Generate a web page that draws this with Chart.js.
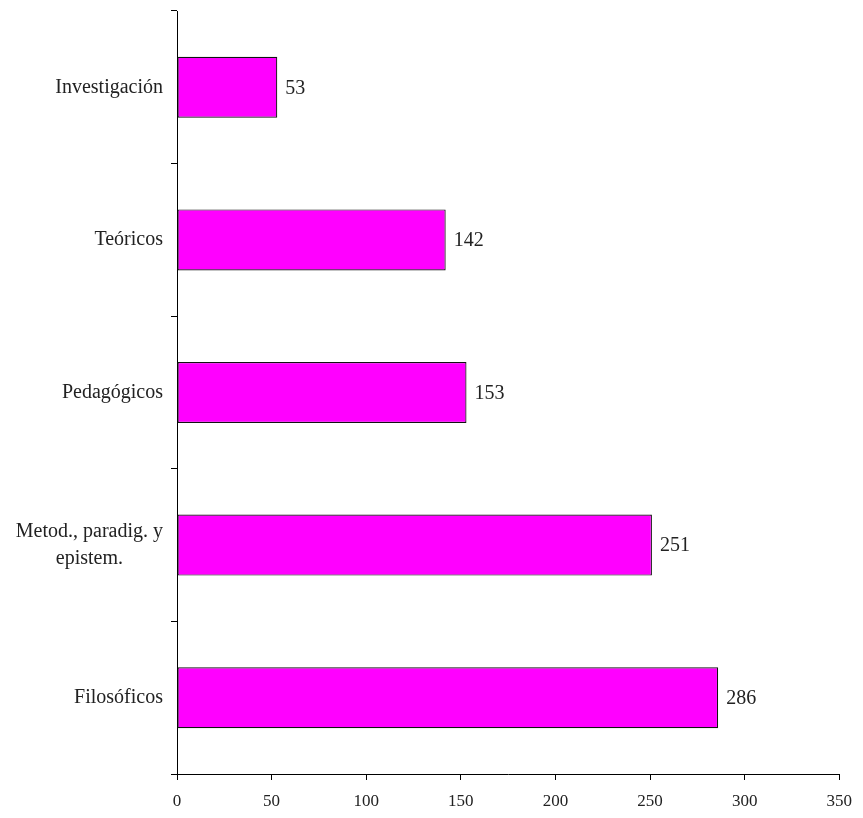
<!DOCTYPE html>
<html>
<head>
<meta charset="utf-8">
<script src="https://cdn.jsdelivr.net/npm/chart.js@4/dist/chart.umd.min.js"></script>
<style>
  body { margin: 0; background: #fff; }
  #wrap { width: 863px; height: 818px; }
</style>
</head>
<body>
<div id="wrap"><canvas id="chart" width="863" height="818"></canvas></div>
<script>
// Chart data
const categories = ['Investigación', 'Teóricos', 'Pedagógicos', ['Metod., paradig. y', 'epistem.'], 'Filosóficos'];
const values = [53, 142, 153, 251, 286];
const xTicks = [0, 50, 100, 150, 200, 250, 300, 350];

const FONT = "'Liberation Serif', 'DejaVu Serif', serif";

// Category labels, each block right aligned, lines centered inside the block
const catLabels = {
  id: 'catLabels',
  afterDraw(chart){
    let ctx = chart.ctx;
    let y = chart.scales.y;
    ctx.save();
    ctx.font = '20px ' + FONT;
    ctx.fillStyle = '#222';
    ctx.textBaseline = 'middle';
    ctx.textAlign = 'center';
    categories.forEach((lab, i) => {
      let lines = Array.isArray(lab) ? lab : [lab];
      let w = Math.max(...lines.map(l => ctx.measureText(l).width));
      let cx = y.right - 14 - w / 2;
      let cy = y.getPixelForValue(i);
      let lh = 27;
      lines.forEach((l, k) => {
        ctx.fillText(l, cx, cy + (k - (lines.length - 1) / 2) * lh);
      });
    });
    ctx.restore();
  }
};

// Value labels at bar ends
const valueLabels = {
  id: 'valueLabels',
  afterDatasetsDraw(chart){
    let ctx = chart.ctx;
    let meta = chart.getDatasetMeta(0);
    ctx.save();
    ctx.font = '20px ' + FONT;
    ctx.fillStyle = '#222';
    ctx.textBaseline = 'middle';
    ctx.textAlign = 'left';
    meta.data.forEach((bar, i) => {
      ctx.fillText(String(values[i]), bar.x + 8, bar.y + 1);
    });
    ctx.restore();
  }
};

new Chart(document.getElementById('chart'), {
  type: 'bar',
  data: {
    labels: categories,
    datasets: [{
      data: values,
      backgroundColor: '#FF00FF',
      borderColor: '#111',
      borderWidth: 1.2,
      borderSkipped: false,
      categoryPercentage: 0.8,
      barPercentage: 0.5
    }]
  },
  options: {
    indexAxis: 'y',
    responsive: false,
    animation: false,
    layout: { padding: { top: 11, right: 11, bottom: 0, left: 0 } },
    plugins: {
      legend: { display: false },
      tooltip: { enabled: false }
    },
    scales: {
      x: {
        min: 0,
        max: 350,
        afterBuildTicks(scale){
          scale.ticks = xTicks.map(v => ({ value: v }));
        },
        afterFit(scale){ scale.height = 44; },
        border: { color: '#000', width: 1 },
        grid: { drawOnChartArea: false, tickLength: 6, color: '#000' },
        ticks: { color: '#222', font: { family: FONT, size: 17 }, padding: 11 }
      },
      y: {
        offset: true,
        afterFit(scale){ scale.width = 177; },
        border: { color: '#000', width: 1 },
        grid: { drawOnChartArea: false, offset: true, tickLength: 6, color: '#000' },
        ticks: { display: false }
      }
    }
  },
  plugins: [catLabels, valueLabels]
});
</script>
</body>
</html>
